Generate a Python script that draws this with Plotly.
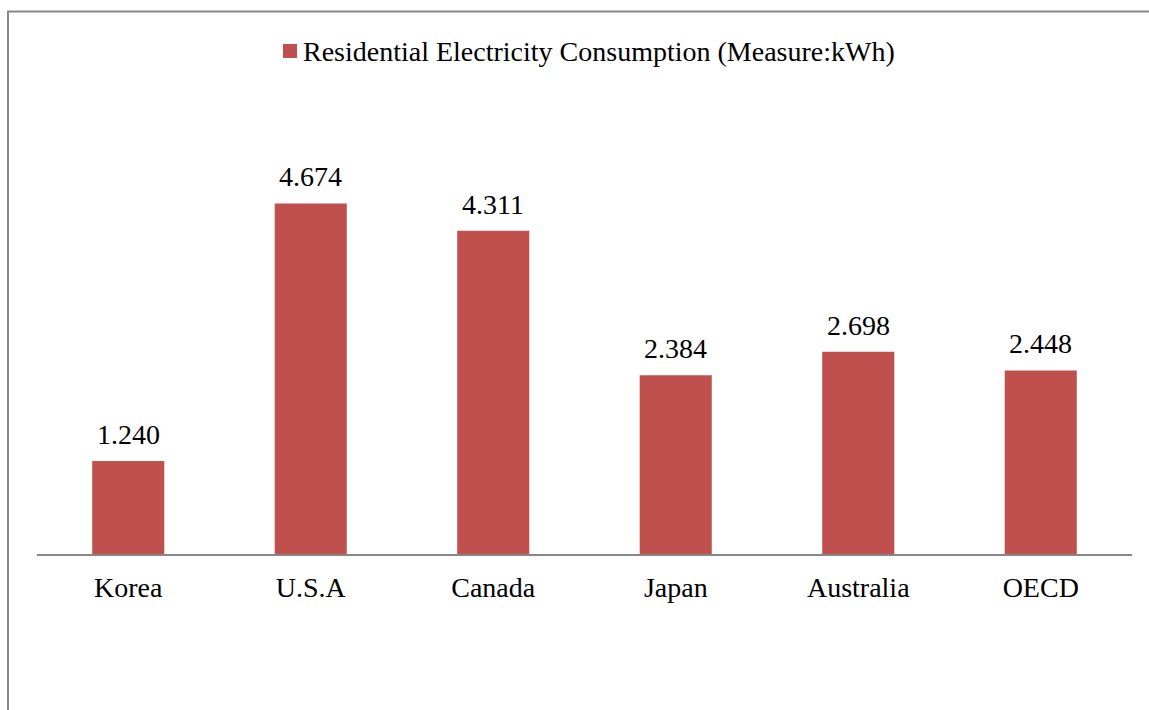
import plotly.graph_objects as go

categories = ["Korea", "U.S.A", "Canada", "Japan", "Australia", "OECD"]
values = [1.240, 4.674, 4.311, 2.384, 2.698, 2.448]
labels = ["1.240", "4.674", "4.311", "2.384", "2.698", "2.448"]
series_name = "Residential Electricity Consumption (Measure:kWh)"

W, H = 1149, 710
ml, mr, mt, mb = 37, 17, 134, 156
pw = W - ml - mr
ph = H - mt - mb

def px_x(p):
    return (p - ml) / pw

def px_y(p):
    return (H - mb - p) / ph

font = "Liberation Serif, Times New Roman, serif"
color = "#C0504D"

fig = go.Figure(go.Bar(
    x=categories, y=values, name=series_name,
    marker=dict(color=color, line=dict(width=0)),
    width=0.395,
    showlegend=False,
))

annotations = [
    dict(x=c, y=v, xref="x", yref="y", text=t, showarrow=False,
         yanchor="bottom", yshift=9,
         font=dict(family=font, size=28, color="#000000"))
    for c, v, t in zip(categories, values, labels)
]
annotations.append(dict(
    x=px_x(301), y=px_y(51), xref="paper", yref="paper", text=series_name,
    showarrow=False, xanchor="left", yanchor="middle",
    font=dict(family=font, size=28, color="#000000")))

fig.update_layout(
    width=W, height=H,
    margin=dict(l=ml, r=mr, t=mt, b=mb),
    paper_bgcolor="white", plot_bgcolor="white",
    font=dict(family=font, size=28, color="#000000"),
    showlegend=False,
    xaxis=dict(showline=True, linecolor="#878787", linewidth=1.5, ticks="",
               showgrid=False, zeroline=False, ticklabelstandoff=8,
               tickfont=dict(family=font, size=28, color="#000000")),
    yaxis=dict(range=[0, ph / 75.0], visible=False, showgrid=False, zeroline=False),
    annotations=annotations,
    shapes=[
        dict(type="rect", xref="paper", yref="paper",
             x0=px_x(8), x1=px_x(1200), y0=px_y(780), y1=px_y(11.5),
             line=dict(color="#878787", width=2), fillcolor="rgba(0,0,0,0)", layer="below"),
        dict(type="rect", xref="paper", yref="paper",
             x0=px_x(283), x1=px_x(297), y0=px_y(58), y1=px_y(44),
             line=dict(width=0), fillcolor=color, layer="above"),
    ],
)

fig.write_html("out.html")
